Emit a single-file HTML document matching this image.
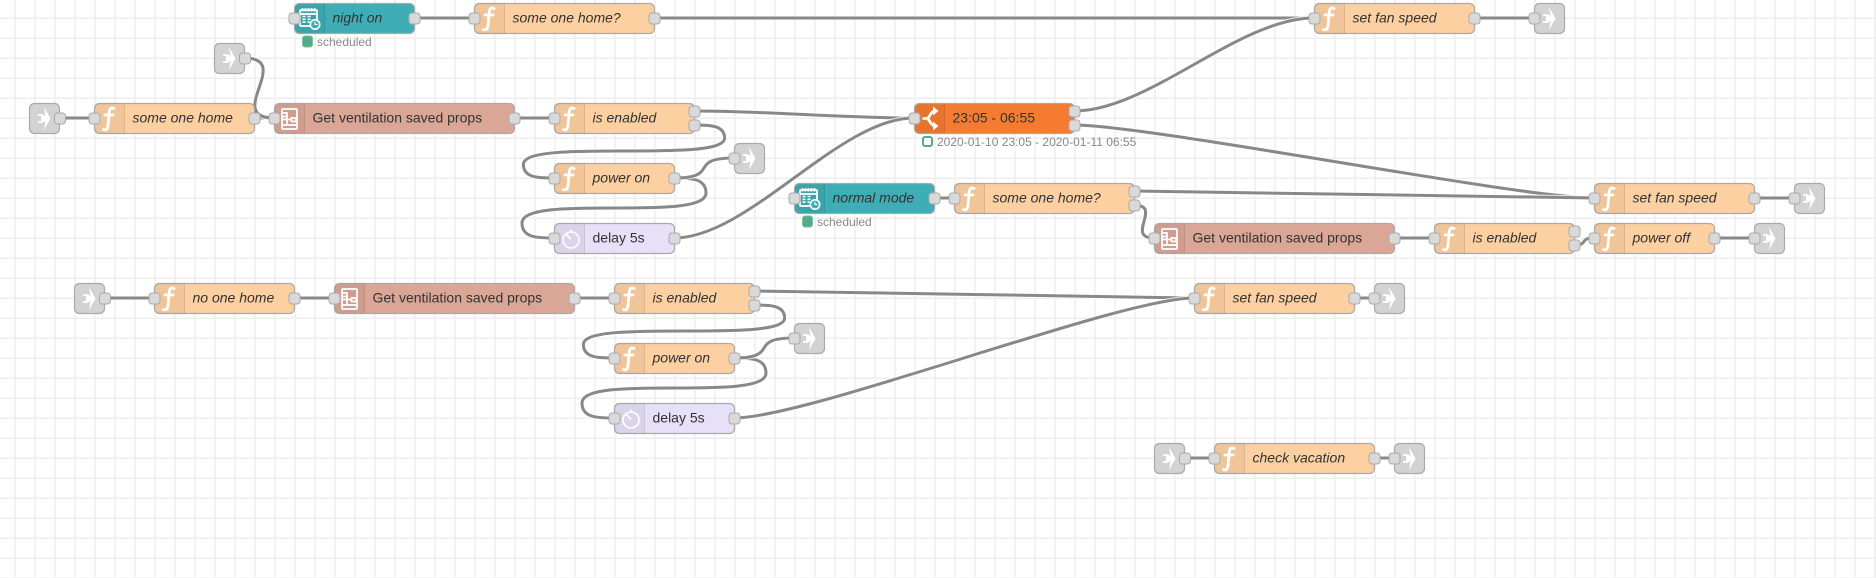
<!DOCTYPE html>
<html><head><meta charset="utf-8"><title>Flow</title>
<style>
html,body{margin:0;padding:0;background:#fff;width:1876px;height:578px;overflow:hidden}
svg{display:block}
text{font-family:"Liberation Sans",Arial,sans-serif;font-size:14px;fill:#333}
.i{font-style:italic}
.s{font-size:12px;fill:#888}
.n{stroke:#aaa;stroke-width:1.2}
.o{fill:none;stroke:#fff;stroke-width:5;opacity:.8}
.w{fill:none;stroke:#888;stroke-width:3}
.p{fill:#d9d9d9;stroke:#aaa;stroke-width:1}
.f{fill:none;stroke:#fff;stroke-width:2.8;stroke-linecap:round}
.ic{fill:none;stroke:#fff;stroke-width:1.7}
.sh{fill:rgba(0,0,0,.05)}
.sl{stroke:rgba(0,0,0,.1);stroke-width:1}
</style></head><body>
<svg width="1876" height="578" viewBox="0 0 1876 578" xmlns="http://www.w3.org/2000/svg">
<defs>
<pattern id="grid" x="0" y="0" width="20" height="20" patternUnits="userSpaceOnUse">
<rect x="14.250" y="0" width="1.500" height="20" fill="#eee"/>
<rect x="0" y="17.500" width="20" height="1.500" fill="#eee"/>
</pattern>
<g id="shade"><path class="sh" d="M5 0H30V30H5A5 5 0 0 1 0 25V5A5 5 0 0 1 5 0Z"/><path class="sl" d="M30 0V30"/></g>
<g id="link"><path d="M14.500 3.500L21 15L14.500 26.500L16 17.500H11.500V12.500H16Z" fill="#fff"/><path d="M8.500 11.500H12A3.500 3.500 0 0 1 12 18.500H8.500" fill="none" stroke="#fff" stroke-width="1.800"/></g>
<g id="cal"><rect class="ic" x="5.500" y="6.500" width="17" height="16" rx="1"/><path class="ic" d="M5.500 10.500H22.500M8 4.500V8M11 4.500V8M14 4.500V8M17 4.500V8M20 4.500V8"/><path d="M8 13H11M13 13H16M8 15.800H11M13 15.800H16M8 18.600H11M13 18.600H15" stroke="#fff" stroke-width="1.600" fill="none"/><circle cx="20.500" cy="21" r="4.700" fill="#3fadb5" stroke="#fff" stroke-width="1.600"/><path d="M20.500 18.500V21H23" fill="none" stroke="#fff" stroke-width="1.100"/></g>
<g id="tab"><rect class="ic" x="7.500" y="5.500" width="15" height="20" rx="1"/><path class="ic" d="M7.500 9.500H12.500V13H7.500M7.500 16H17M17 14.500H21.500V18H17ZM7.500 21.500H22.500M12.500 13V21.500"/></g>
<g id="timer"><circle cx="16.500" cy="16.500" r="8" fill="none" stroke="#fff" stroke-width="1.800" opacity=".85"/><path d="M16.500 6V9M11 10L16.500 16" fill="none" stroke="#fff" stroke-width="1.800" opacity=".85"/></g>
<g id="sw"><path d="M8 15H12C15 15 16 8 20 7.500M12 15C15 15 16 22 20 22.500" fill="none" stroke="#fff" stroke-width="2.800"/><path d="M18.500 3L24 7.500L18.500 12ZM18.500 18L24 22.500L18.500 27Z" fill="#fff"/></g>
</defs>
<rect width="1876" height="578" fill="#fff"/>
<rect width="1876" height="578" fill="url(#grid)"/>

<!-- wires -->
<g id="wires">
<path class="o" d="M60 118H94"/><path class="w" d="M60 118H94"/>
<path class="o" d="M254 118H274"/><path class="w" d="M254 118H274"/>
<path class="o" d="M244 58C294.300 58 223.700 118 274 118"/><path class="w" d="M244 58C294.300 58 223.700 118 274 118"/>
<path class="o" d="M514 118H554"/><path class="w" d="M514 118H554"/>
<path class="o" d="M414 18H474"/><path class="w" d="M414 18H474"/>
<path class="o" d="M654 18H1314"/><path class="w" d="M654 18H1314"/>
<path class="o" d="M1474 18H1534"/><path class="w" d="M1474 18H1534"/>
<path class="o" d="M694 111C769 111 839 118 914 118"/><path class="w" d="M694 111C769 111 839 118 914 118"/>
<path class="o" d="M674 238C749 238 839 118 914 118"/><path class="w" d="M674 238C749 238 839 118 914 118"/>
<path class="o" d="M1074 111C1149 111 1239 18 1314 18"/><path class="w" d="M1074 111C1149 111 1239 18 1314 18"/>
<path class="o" d="M1074 125C1149 125 1519 198 1594 198"/><path class="w" d="M1074 125C1149 125 1519 198 1594 198"/>
<path class="o" d="M694 125C709.300 125 724.600 125 724.600 138C724.600 151 674.300 151 624 151C573.700 151 523.400 151 523.400 164.500C523.400 178 538.700 178 554 178"/><path class="w" d="M694 125C709.300 125 724.600 125 724.600 138C724.600 151 674.300 151 624 151C573.700 151 523.400 151 523.400 164.500C523.400 178 538.700 178 554 178"/>
<path class="o" d="M674 178C690 178 706 178 706 193C706 208 660 208 614 208C568 208 522 208 522 223C522 238 538 238 554 238"/><path class="w" d="M674 178C690 178 706 178 706 193C706 208 660 208 614 208C568 208 522 208 522 223C522 238 538 238 554 238"/>
<path class="o" d="M674 178C721.400 178 686.600 158 734 158"/><path class="w" d="M674 178C721.400 178 686.600 158 734 158"/>
<path class="o" d="M934 198H954"/><path class="w" d="M934 198H954"/>
<path class="o" d="M1134 191C1209 191 1519 198 1594 198"/><path class="w" d="M1134 191C1209 191 1519 198 1594 198"/>
<path class="o" d="M1134 205C1163 205 1125 238 1154 238"/><path class="w" d="M1134 205C1163 205 1125 238 1154 238"/>
<path class="o" d="M1394 238H1434"/><path class="w" d="M1394 238H1434"/>
<path class="o" d="M1574 245C1589.900 245 1578.100 238 1594 238"/><path class="w" d="M1574 245C1589.900 245 1578.100 238 1594 238"/>
<path class="o" d="M1714 238H1754"/><path class="w" d="M1714 238H1754"/>
<path class="o" d="M1754 198H1794"/><path class="w" d="M1754 198H1794"/>
<path class="o" d="M104 298H154"/><path class="w" d="M104 298H154"/>
<path class="o" d="M294 298H334"/><path class="w" d="M294 298H334"/>
<path class="o" d="M574 298H614"/><path class="w" d="M574 298H614"/>
<path class="o" d="M754 291C829 291 1119 298 1194 298"/><path class="w" d="M754 291C829 291 1119 298 1194 298"/>
<path class="o" d="M734 418C809 418 1119 298 1194 298"/><path class="w" d="M734 418C809 418 1119 298 1194 298"/>
<path class="o" d="M754 305C769.300 305 784.600 305 784.600 318C784.600 331 734.300 331 684 331C633.700 331 583.400 331 583.400 344.500C583.400 358 598.700 358 614 358"/><path class="w" d="M754 305C769.300 305 784.600 305 784.600 318C784.600 331 734.300 331 684 331C633.700 331 583.400 331 583.400 344.500C583.400 358 598.700 358 614 358"/>
<path class="o" d="M734 358C750 358 766 358 766 373C766 388 720 388 674 388C628 388 582 388 582 403C582 418 598 418 614 418"/><path class="w" d="M734 358C750 358 766 358 766 373C766 388 720 388 674 388C628 388 582 388 582 403C582 418 598 418 614 418"/>
<path class="o" d="M734 358C781.400 358 746.600 338 794 338"/><path class="w" d="M734 358C781.400 358 746.600 338 794 338"/>
<path class="o" d="M1354 298H1374"/><path class="w" d="M1354 298H1374"/>
<path class="o" d="M1184 458H1214"/><path class="w" d="M1184 458H1214"/>
<path class="o" d="M1374 458H1394"/><path class="w" d="M1374 458H1394"/>
</g>

<!-- link nodes -->
<g transform="translate(29.500,103.500)"><rect class="n" width="30" height="30" rx="5" fill="#d3d3d3"/><use href="#link"/><rect class="p" x="25" y="9.500" width="11" height="11" rx="3"/></g>
<g transform="translate(214.500,43.500)"><rect class="n" width="30" height="30" rx="5" fill="#d3d3d3"/><use href="#link"/><rect class="p" x="25" y="9.500" width="11" height="11" rx="3"/></g>
<g transform="translate(74.500,283.500)"><rect class="n" width="30" height="30" rx="5" fill="#d3d3d3"/><use href="#link"/><rect class="p" x="25" y="9.500" width="11" height="11" rx="3"/></g>
<g transform="translate(1154.500,443.500)"><rect class="n" width="30" height="30" rx="5" fill="#d3d3d3"/><use href="#link"/><rect class="p" x="25" y="9.500" width="11" height="11" rx="3"/></g>
<g transform="translate(734.500,143.500)"><rect class="n" width="30" height="30" rx="5" fill="#d3d3d3"/><use href="#link"/><rect class="p" x="-5.500" y="9.500" width="11" height="11" rx="3"/></g>
<g transform="translate(794.500,323.500)"><rect class="n" width="30" height="30" rx="5" fill="#d3d3d3"/><use href="#link"/><rect class="p" x="-5.500" y="9.500" width="11" height="11" rx="3"/></g>
<g transform="translate(1534.500,3.500)"><rect class="n" width="30" height="30" rx="5" fill="#d3d3d3"/><use href="#link"/><rect class="p" x="-5.500" y="9.500" width="11" height="11" rx="3"/></g>
<g transform="translate(1794.500,183.500)"><rect class="n" width="30" height="30" rx="5" fill="#d3d3d3"/><use href="#link"/><rect class="p" x="-5.500" y="9.500" width="11" height="11" rx="3"/></g>
<g transform="translate(1754.500,223.500)"><rect class="n" width="30" height="30" rx="5" fill="#d3d3d3"/><use href="#link"/><rect class="p" x="-5.500" y="9.500" width="11" height="11" rx="3"/></g>
<g transform="translate(1374.500,283.500)"><rect class="n" width="30" height="30" rx="5" fill="#d3d3d3"/><use href="#link"/><rect class="p" x="-5.500" y="9.500" width="11" height="11" rx="3"/></g>
<g transform="translate(1394.500,443.500)"><rect class="n" width="30" height="30" rx="5" fill="#d3d3d3"/><use href="#link"/><rect class="p" x="-5.500" y="9.500" width="11" height="11" rx="3"/></g>

<!-- inject nodes -->
<g transform="translate(294.500,3.500)"><rect class="n" width="120" height="30" rx="5" fill="#3fadb5"/><use href="#shade"/><use href="#cal"/><text class="i" x="38" y="19">night on</text><rect class="p" x="-5.500" y="9.500" width="11" height="11" rx="3"/><rect class="p" x="114.500" y="9.500" width="11" height="11" rx="3"/></g>
<rect x="302.500" y="36" width="10" height="11" rx="2.500" fill="#55aa88" stroke="#7cc0a4" stroke-width="1"/>
<text class="s" x="317" y="46">scheduled</text>
<g transform="translate(794.500,183.500)"><rect class="n" width="140" height="30" rx="5" fill="#3fadb5"/><use href="#shade"/><use href="#cal"/><text class="i" x="38" y="19">normal mode</text><rect class="p" x="-5.500" y="9.500" width="11" height="11" rx="3"/><rect class="p" x="134.500" y="9.500" width="11" height="11" rx="3"/></g>
<rect x="802.500" y="216" width="10" height="11" rx="2.500" fill="#55aa88" stroke="#7cc0a4" stroke-width="1"/>
<text class="s" x="817" y="226">scheduled</text>

<!-- function nodes -->
<g transform="translate(94.500,103.500)"><rect class="n" width="160" height="30" rx="5" fill="#fdd0a2"/><use href="#shade"/><path class="f" d="M19.500 5C16 3.500 15 5.500 14.700 9L13.500 22C13 26 11.500 27 9 26M10.500 11.500H18.500"/><text class="i" x="38" y="19">some one home</text><rect class="p" x="-5.500" y="9.500" width="11" height="11" rx="3"/><rect class="p" x="154.500" y="9.500" width="11" height="11" rx="3"/></g>
<g transform="translate(474.500,3.500)"><rect class="n" width="180" height="30" rx="5" fill="#fdd0a2"/><use href="#shade"/><path class="f" d="M19.500 5C16 3.500 15 5.500 14.700 9L13.500 22C13 26 11.500 27 9 26M10.500 11.500H18.500"/><text class="i" x="38" y="19">some one home?</text><rect class="p" x="-5.500" y="9.500" width="11" height="11" rx="3"/><rect class="p" x="174.500" y="9.500" width="11" height="11" rx="3"/></g>
<g transform="translate(1314.500,3.500)"><rect class="n" width="160" height="30" rx="5" fill="#fdd0a2"/><use href="#shade"/><path class="f" d="M19.500 5C16 3.500 15 5.500 14.700 9L13.500 22C13 26 11.500 27 9 26M10.500 11.500H18.500"/><text class="i" x="38" y="19">set fan speed</text><rect class="p" x="-5.500" y="9.500" width="11" height="11" rx="3"/><rect class="p" x="154.500" y="9.500" width="11" height="11" rx="3"/></g>
<g transform="translate(554.500,103.500)"><rect class="n" width="140" height="30" rx="5" fill="#fdd0a2"/><use href="#shade"/><path class="f" d="M19.500 5C16 3.500 15 5.500 14.700 9L13.500 22C13 26 11.500 27 9 26M10.500 11.500H18.500"/><text class="i" x="38" y="19">is enabled</text><rect class="p" x="-5.500" y="9.500" width="11" height="11" rx="3"/><rect class="p" x="134.500" y="2.500" width="11" height="11" rx="3"/><rect class="p" x="134.500" y="16.500" width="11" height="11" rx="3"/></g>
<g transform="translate(554.500,163.500)"><rect class="n" width="120" height="30" rx="5" fill="#fdd0a2"/><use href="#shade"/><path class="f" d="M19.500 5C16 3.500 15 5.500 14.700 9L13.500 22C13 26 11.500 27 9 26M10.500 11.500H18.500"/><text class="i" x="38" y="19">power on</text><rect class="p" x="-5.500" y="9.500" width="11" height="11" rx="3"/><rect class="p" x="114.500" y="9.500" width="11" height="11" rx="3"/></g>
<g transform="translate(954.500,183.500)"><rect class="n" width="180" height="30" rx="5" fill="#fdd0a2"/><use href="#shade"/><path class="f" d="M19.500 5C16 3.500 15 5.500 14.700 9L13.500 22C13 26 11.500 27 9 26M10.500 11.500H18.500"/><text class="i" x="38" y="19">some one home?</text><rect class="p" x="-5.500" y="9.500" width="11" height="11" rx="3"/><rect class="p" x="174.500" y="2.500" width="11" height="11" rx="3"/><rect class="p" x="174.500" y="16.500" width="11" height="11" rx="3"/></g>
<g transform="translate(1594.500,183.500)"><rect class="n" width="160" height="30" rx="5" fill="#fdd0a2"/><use href="#shade"/><path class="f" d="M19.500 5C16 3.500 15 5.500 14.700 9L13.500 22C13 26 11.500 27 9 26M10.500 11.500H18.500"/><text class="i" x="38" y="19">set fan speed</text><rect class="p" x="-5.500" y="9.500" width="11" height="11" rx="3"/><rect class="p" x="154.500" y="9.500" width="11" height="11" rx="3"/></g>
<g transform="translate(1434.500,223.500)"><rect class="n" width="140" height="30" rx="5" fill="#fdd0a2"/><use href="#shade"/><path class="f" d="M19.500 5C16 3.500 15 5.500 14.700 9L13.500 22C13 26 11.500 27 9 26M10.500 11.500H18.500"/><text class="i" x="38" y="19">is enabled</text><rect class="p" x="-5.500" y="9.500" width="11" height="11" rx="3"/><rect class="p" x="134.500" y="2.500" width="11" height="11" rx="3"/><rect class="p" x="134.500" y="16.500" width="11" height="11" rx="3"/></g>
<g transform="translate(1594.500,223.500)"><rect class="n" width="120" height="30" rx="5" fill="#fdd0a2"/><use href="#shade"/><path class="f" d="M19.500 5C16 3.500 15 5.500 14.700 9L13.500 22C13 26 11.500 27 9 26M10.500 11.500H18.500"/><text class="i" x="38" y="19">power off</text><rect class="p" x="-5.500" y="9.500" width="11" height="11" rx="3"/><rect class="p" x="114.500" y="9.500" width="11" height="11" rx="3"/></g>
<g transform="translate(154.500,283.500)"><rect class="n" width="140" height="30" rx="5" fill="#fdd0a2"/><use href="#shade"/><path class="f" d="M19.500 5C16 3.500 15 5.500 14.700 9L13.500 22C13 26 11.500 27 9 26M10.500 11.500H18.500"/><text class="i" x="38" y="19">no one home</text><rect class="p" x="-5.500" y="9.500" width="11" height="11" rx="3"/><rect class="p" x="134.500" y="9.500" width="11" height="11" rx="3"/></g>
<g transform="translate(614.500,283.500)"><rect class="n" width="140" height="30" rx="5" fill="#fdd0a2"/><use href="#shade"/><path class="f" d="M19.500 5C16 3.500 15 5.500 14.700 9L13.500 22C13 26 11.500 27 9 26M10.500 11.500H18.500"/><text class="i" x="38" y="19">is enabled</text><rect class="p" x="-5.500" y="9.500" width="11" height="11" rx="3"/><rect class="p" x="134.500" y="2.500" width="11" height="11" rx="3"/><rect class="p" x="134.500" y="16.500" width="11" height="11" rx="3"/></g>
<g transform="translate(614.500,343.500)"><rect class="n" width="120" height="30" rx="5" fill="#fdd0a2"/><use href="#shade"/><path class="f" d="M19.500 5C16 3.500 15 5.500 14.700 9L13.500 22C13 26 11.500 27 9 26M10.500 11.500H18.500"/><text class="i" x="38" y="19">power on</text><rect class="p" x="-5.500" y="9.500" width="11" height="11" rx="3"/><rect class="p" x="114.500" y="9.500" width="11" height="11" rx="3"/></g>
<g transform="translate(1194.500,283.500)"><rect class="n" width="160" height="30" rx="5" fill="#fdd0a2"/><use href="#shade"/><path class="f" d="M19.500 5C16 3.500 15 5.500 14.700 9L13.500 22C13 26 11.500 27 9 26M10.500 11.500H18.500"/><text class="i" x="38" y="19">set fan speed</text><rect class="p" x="-5.500" y="9.500" width="11" height="11" rx="3"/><rect class="p" x="154.500" y="9.500" width="11" height="11" rx="3"/></g>
<g transform="translate(1214.500,443.500)"><rect class="n" width="160" height="30" rx="5" fill="#fdd0a2"/><use href="#shade"/><path class="f" d="M19.500 5C16 3.500 15 5.500 14.700 9L13.500 22C13 26 11.500 27 9 26M10.500 11.500H18.500"/><text class="i" x="38" y="19">check vacation</text><rect class="p" x="-5.500" y="9.500" width="11" height="11" rx="3"/><rect class="p" x="154.500" y="9.500" width="11" height="11" rx="3"/></g>

<!-- template nodes -->
<g transform="translate(274.500,103.500)"><rect class="n" width="240" height="30" rx="5" fill="#daa696"/><use href="#shade"/><use href="#tab"/><text x="38" y="19">Get ventilation saved props</text><rect class="p" x="-5.500" y="9.500" width="11" height="11" rx="3"/><rect class="p" x="234.500" y="9.500" width="11" height="11" rx="3"/></g>
<g transform="translate(1154.500,223.500)"><rect class="n" width="240" height="30" rx="5" fill="#daa696"/><use href="#shade"/><use href="#tab"/><text x="38" y="19">Get ventilation saved props</text><rect class="p" x="-5.500" y="9.500" width="11" height="11" rx="3"/><rect class="p" x="234.500" y="9.500" width="11" height="11" rx="3"/></g>
<g transform="translate(334.500,283.500)"><rect class="n" width="240" height="30" rx="5" fill="#daa696"/><use href="#shade"/><use href="#tab"/><text x="38" y="19">Get ventilation saved props</text><rect class="p" x="-5.500" y="9.500" width="11" height="11" rx="3"/><rect class="p" x="234.500" y="9.500" width="11" height="11" rx="3"/></g>

<!-- delay nodes -->
<g transform="translate(554.500,223.500)"><rect class="n" width="120" height="30" rx="5" fill="#e6e0f8"/><use href="#shade"/><use href="#timer"/><text x="38" y="19">delay 5s</text><rect class="p" x="-5.500" y="9.500" width="11" height="11" rx="3"/><rect class="p" x="114.500" y="9.500" width="11" height="11" rx="3"/></g>
<g transform="translate(614.500,403.500)"><rect class="n" width="120" height="30" rx="5" fill="#e6e0f8"/><use href="#shade"/><use href="#timer"/><text x="38" y="19">delay 5s</text><rect class="p" x="-5.500" y="9.500" width="11" height="11" rx="3"/><rect class="p" x="114.500" y="9.500" width="11" height="11" rx="3"/></g>

<!-- switch node -->
<g transform="translate(914.500,103.500)"><rect class="n" width="160" height="30" rx="5" fill="#f47b30"/><use href="#shade"/><use href="#sw"/><text x="38" y="19">23:05 - 06:55</text><rect class="p" x="-5.500" y="9.500" width="11" height="11" rx="3"/><rect class="p" x="154.500" y="2.500" width="11" height="11" rx="3"/><rect class="p" x="154.500" y="16.500" width="11" height="11" rx="3"/></g>
<rect x="923" y="137" width="9" height="9" rx="2" fill="#fff" stroke="#55aa88" stroke-width="2"/>
<text class="s" x="937" y="146">2020-01-10 23:05 - 2020-01-11 06:55</text>
</svg>
</body></html>
